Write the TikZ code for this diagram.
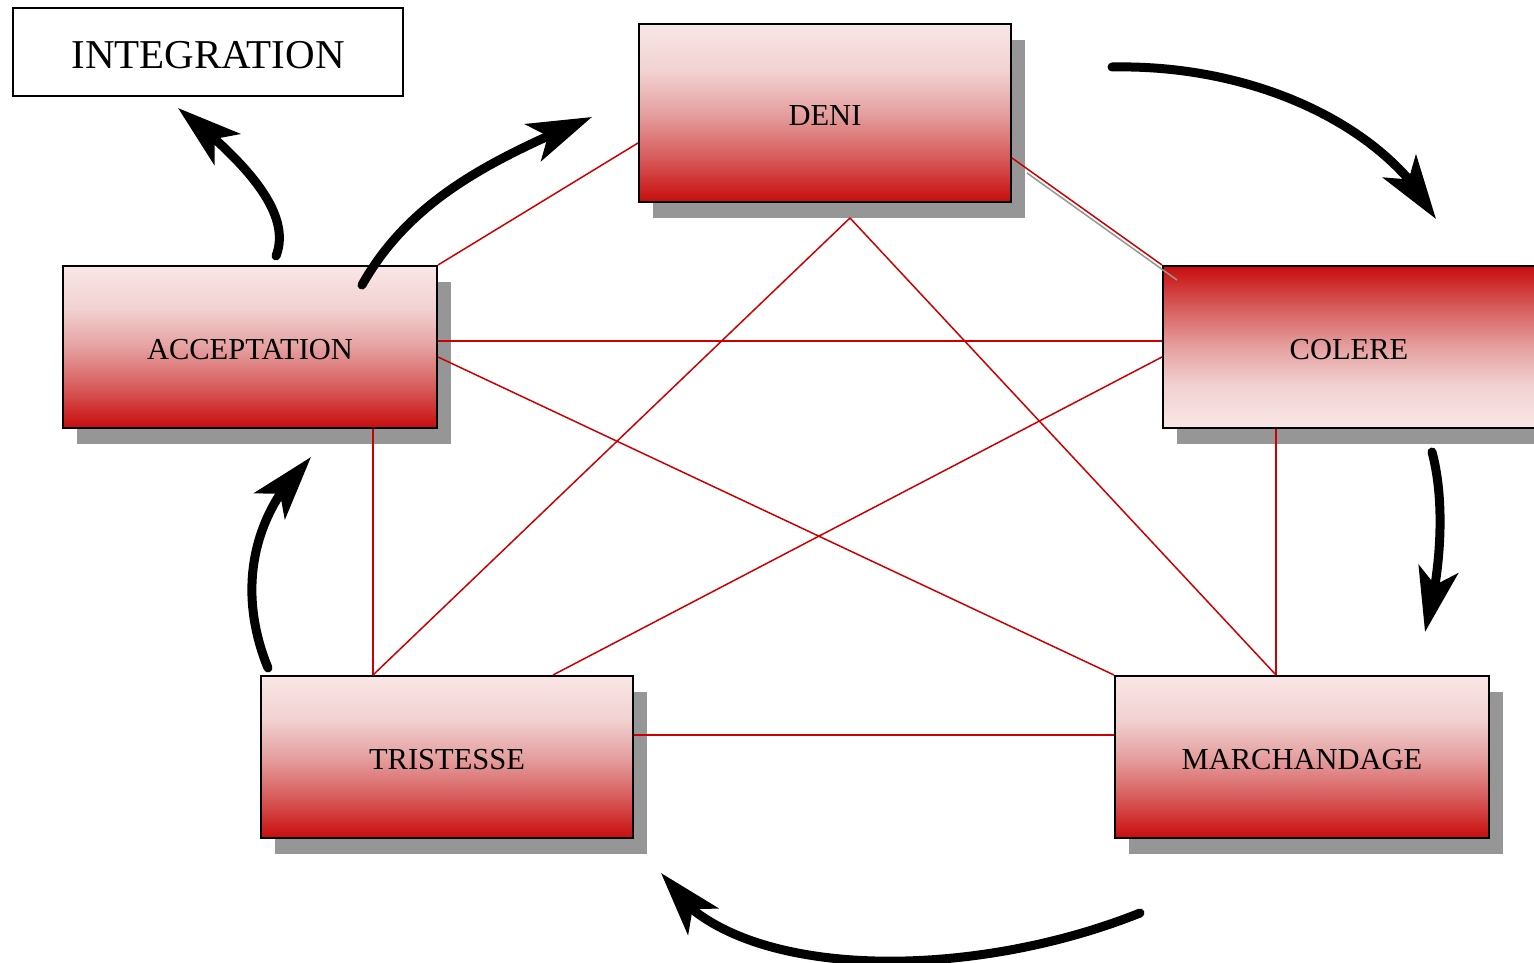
\documentclass[tikz,border=0pt]{standalone}
\usepackage{fontspec}
\setmainfont{Liberation Serif}
\usetikzlibrary{shadows,arrows.meta,bending}

\definecolor{deepred}{RGB}{200,12,12}
\definecolor{midred}{RGB}{214,88,88}
\definecolor{rosered}{RGB}{229,160,160}
\definecolor{palered}{RGB}{242,210,210}
\definecolor{toppink}{RGB}{249,230,230}
\definecolor{shadowgray}{RGB}{150,150,150}
\definecolor{linkred}{RGB}{204,0,0}

% vertical fade: light pink at the top, deep red at the bottom
\pgfdeclareverticalshading{redfade}{100bp}{%
  color(0bp)=(deepred); color(25bp)=(deepred);
  color(37bp)=(midred); color(50bp)=(rosered);
  color(62bp)=(palered); color(75bp)=(toppink); color(100bp)=(toppink)}
% the same fade, turned upside down
\pgfdeclareverticalshading{redfadeup}{100bp}{%
  color(0bp)=(toppink); color(25bp)=(toppink);
  color(38bp)=(palered); color(50bp)=(rosered);
  color(63bp)=(midred); color(75bp)=(deepred); color(100bp)=(deepred)}

\tikzset{
  stage/.style={draw=black, line width=2pt, shading=redfade,
    minimum width=372pt, minimum height=162pt, inner sep=0pt,
    font=\fontsize{30.5}{36}\selectfont, text height=25pt,
    drop shadow={shadow xshift=14pt, shadow yshift=-16pt,
      fill=shadowgray, opacity=1}},
  stageup/.style={stage, shading=redfadeup},
  outcome/.style={draw=black, line width=2pt, fill=white,
    minimum width=390pt, minimum height=88pt, inner sep=0pt,
    font=\fontsize{41}{48}\selectfont, text height=33pt},
  link/.style={draw=linkred, line width=1.5pt},
  cycle/.style={draw=black, line width=9pt, line cap=round,
    -{Stealth[length=64pt,width=40pt,inset=16pt,flex]}}
}

\begin{document}
\begin{tikzpicture}[x=1pt,y=-1pt]
\useasboundingbox (0,0) rectangle (1534,963);

% stages of the cycle
\node[outcome] (integ) at (208,52) {INTEGRATION};
\node[stage, minimum height=178pt] (deni) at (825,113) {DENI};
\node[stage, minimum width=374pt] (accept) at (250,347) {ACCEPTATION};
\node[stageup] (colere) at (1349,347) {COLERE};
\node[stage] (trist) at (447,757) {TRISTESSE};
\node[stage, minimum width=374pt] (marchand) at (1302,757) {MARCHANDAGE};

% links between the stages
\draw[link] ([yshift=-30pt]deni.west) -- (accept.north east);
\draw[draw=shadowgray, line width=1.5pt] ([shift={(15pt,-60pt)}]deni.east) -- ([shift={(15pt,-15pt)}]colere.north west);
\draw[link] ([yshift=-45pt]deni.east) -- (colere.north west);
\coordinate (apex) at ([xshift=25pt,yshift=-15pt]deni.south);
\draw[link] (apex) -- ([xshift=-74pt]trist.north);
\draw[link] (apex) -- ([xshift=-26pt]marchand.north);
\draw[link] ([yshift=6pt]accept.east) -- ([yshift=6pt]colere.west);
\draw[link] ([yshift=-10pt]accept.east) -- (marchand.north west);
\draw[link] ([yshift=-10pt]colere.west) -- ([xshift=106pt]trist.north);
\draw[link] ([xshift=123pt]accept.south) -- ([xshift=-74pt]trist.north);
\draw[link] ([xshift=-73pt]colere.south) -- ([xshift=-26pt]marchand.north);
\draw[link] ([yshift=22pt]trist.east) -- ([yshift=22pt]marchand.west);

% free ends of the cycle arrows
\coordinate (a1s) at (276,256);  \coordinate (a1e) at (178,108);
\coordinate (a2s) at (362,285);  \coordinate (a2e) at (592,117);
\coordinate (a3s) at (1112,67);  \coordinate (a3e) at (1436,219);
\coordinate (a4s) at (1432,452); \coordinate (a4e) at (1425,632);
\coordinate (a5s) at (1140,913); \coordinate (a5e) at (661,873);
\coordinate (a6s) at (268,668);  \coordinate (a6e) at (311,457);

% cycle arrows
\draw[cycle] (a1s) .. controls (292,215) and (250,165) .. (a1e);
\draw[cycle] (a2s) .. controls (410,200) and (490,160) .. (a2e);
\draw[cycle] (a3s) .. controls (1260,64) and (1390,130) .. (a3e);
\draw[cycle] (a4s) .. controls (1445,500) and (1442,570) .. (a4e);
\draw[cycle] (a5s) .. controls (960,985) and (720,980) .. (a5e);
\draw[cycle] (a6s) .. controls (240,600) and (245,520) .. (a6e);
\end{tikzpicture}
\end{document}
